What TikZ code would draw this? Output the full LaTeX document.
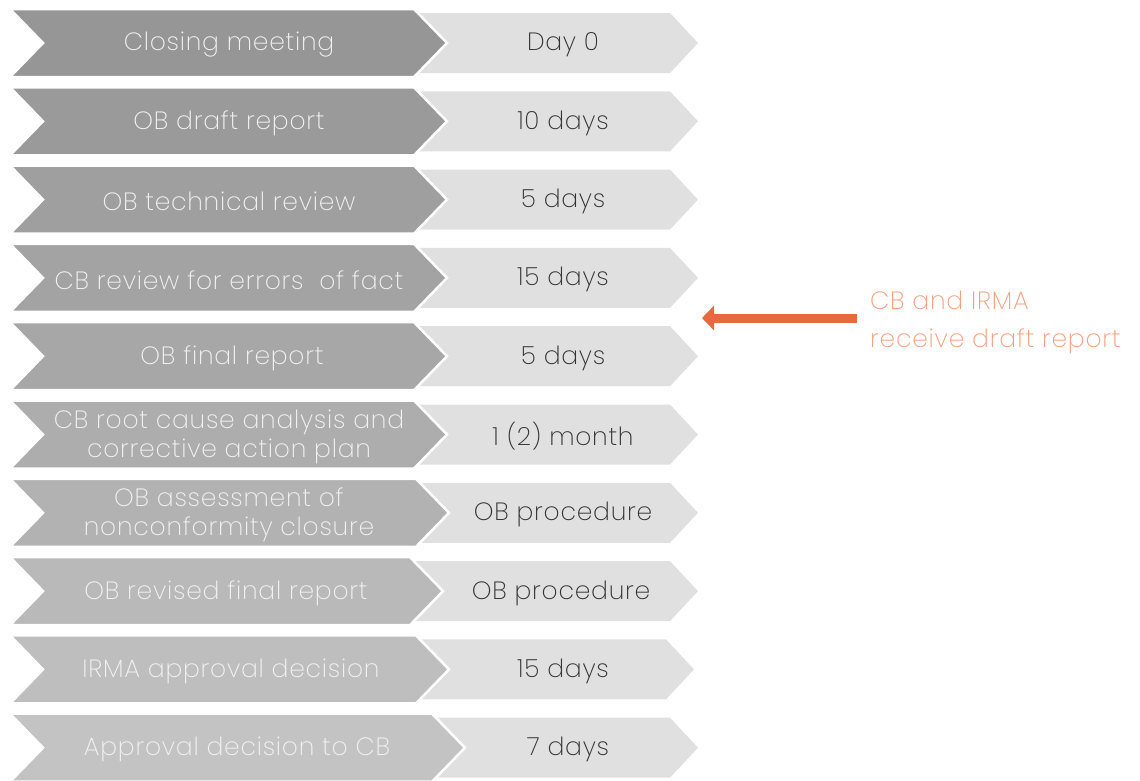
\documentclass[tikz,border=0pt]{standalone}
\usepackage{fontspec}
\setmainfont{Poppins}[UprightFont=* ExtraLight, LetterSpace=3]
\usetikzlibrary{arrows.meta}
\definecolor{lightfill}{HTML}{E0E0E0}
\definecolor{darktxt}{HTML}{F2F2F2}
\definecolor{lighttxt}{HTML}{333333}
\definecolor{arrowor}{HTML}{E8693F}
\definecolor{notetxt}{HTML}{F4A080}
\tikzset{
  darktext/.style={text=darktxt, font=\fontsize{25}{29}\selectfont, align=center, inner sep=0pt},
  lighttext/.style={text=lighttxt, font=\fontsize{25}{29}\selectfont, align=center, inner sep=0pt},
  notetext/.style={text=notetxt, font=\fontsize{25}{38}\selectfont, align=left, inner sep=0pt},
  darkchev/.style={draw=white, line width=2.5pt, line join=miter},
  lightchev/.style={fill=lightfill},
  orangearrow/.style={draw=arrowor, line width=9pt, -{Triangle[length=12pt,width=24pt]}}
}
\begin{document}
\begin{tikzpicture}[x=1pt,y=-1pt]
\useasboundingbox (0,0) rectangle (1140,780);
\foreach \i/\tip/\ltip/\g/\tx/\dx/\txt/\dur in {
  1/447/698/0.59/229/563/{Closing meeting}/{Day 0},
  2/447/698/0.605/229/563/{OB draft report}/{10 days},
  3/447/698/0.625/229/563/{OB technical review}/{5 days},
  4/447/698/0.64/229/563/{CB review for errors\ \ of fact}/{15 days},
  5/447/698/0.655/232/563/{OB final report}/{5 days},
  6/447/698/0.68/229/563/{CB root cause analysis and\\corrective action plan}/{1 (2) month},
  7/449/698/0.70/229/563/{OB assessment of\\nonconformity closure}/{OB procedure},
  8/443/698/0.725/226/561/{OB revised final report}/{OB procedure},
  9/449/694/0.745/231/563/{IRMA approval decision}/{15 days},
  10/465/698/0.765/237/568/{Approval decision to CB}/{7 days}}
{
  \pgfmathsetmacro\yc{43+(\i-1)*78.3}
  \definecolor{dk}{gray}{\g}
  \fill[lightchev] (\tip-40,\yc-30) -- (\ltip-28,\yc-30) -- (\ltip,\yc) -- (\ltip-28,\yc+30) -- (\tip-40,\yc+30) -- cycle;
  \filldraw[darkchev, fill=dk] (10,\yc-34) -- (\tip-33,\yc-34) -- (\tip,\yc) -- (\tip-33,\yc+34) -- (10,\yc+34) -- (43,\yc) -- cycle;
  \node[darktext] (s\i) at (\tx,\yc+2) {\txt};
  \node[lighttext] (d\i) at (\dx,\yc+2) {\dur};
}
\node[notetext, anchor=west] (note) at (870,322) {CB and IRMA\\receive draft report};
\coordinate (tgt) at (702,318);
\draw[orangearrow, shorten <=13pt] (note.west |- tgt) -- (tgt);
\end{tikzpicture}
\end{document}
